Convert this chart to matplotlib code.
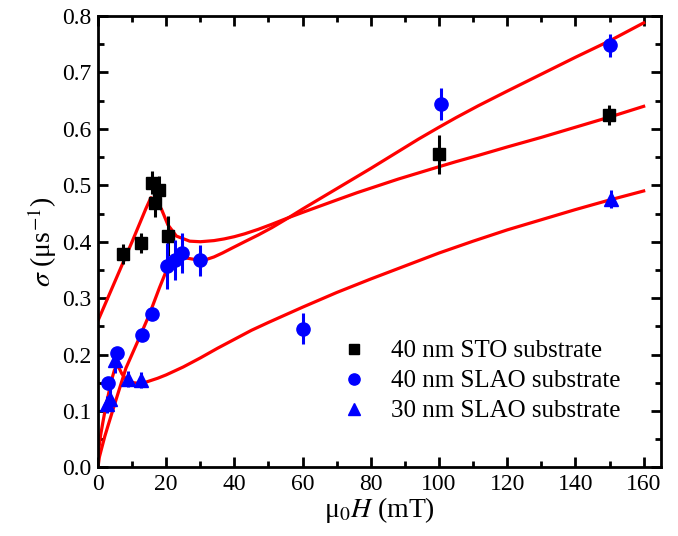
import matplotlib
matplotlib.use("Agg")
import matplotlib.pyplot as plt
from matplotlib.ticker import MultipleLocator, FormatStrFormatter

plt.rcParams['font.family'] = ['Liberation Serif', 'DejaVu Serif']
plt.rcParams['mathtext.fontset'] = 'stix'

# ---- data points ----
sto_x = [7.3, 12.5, 15.8, 16.6, 17.8, 20.4, 100.1, 149.8]
sto_y = [0.378, 0.398, 0.505, 0.468, 0.492, 0.410, 0.555, 0.625]
sto_e = [0.018, 0.018, 0.020, 0.025, 0.025, 0.035, 0.035, 0.018]

slao40_x = [3.0, 5.5, 12.8, 15.7, 20.3, 22.5, 24.5, 30.0, 60.1, 100.7, 150.2]
slao40_y = [0.150, 0.202, 0.234, 0.272, 0.357, 0.368, 0.380, 0.367, 0.246, 0.644, 0.748]
slao40_e = [0.008, 0.008, 0.008, 0.008, 0.040, 0.035, 0.035, 0.028, 0.028, 0.028, 0.020]

slao30_x = [2.6, 3.4, 5.0, 8.9, 12.7, 150.5]
slao30_y = [0.112, 0.122, 0.190, 0.157, 0.155, 0.476]
slao30_e = [0.015, 0.022, 0.022, 0.014, 0.014, 0.016]

# ---- fit curves ----
fit_sto_x = [0, 5, 10, 14, 15.5, 16.5, 17.5, 18.6, 20.5, 23, 26.9, 30, 34, 37, 40, 43, 47,
             51, 56, 60, 65, 70, 76, 82, 88, 94, 100, 105, 111.5, 120, 130, 140, 150, 160]
fit_sto_y = [0.26, 0.33, 0.40, 0.458, 0.478, 0.475, 0.467, 0.458, 0.430, 0.410, 0.401, 0.400,
             0.402, 0.405, 0.409, 0.414, 0.422, 0.431, 0.443, 0.452, 0.463, 0.474, 0.487,
             0.499, 0.511, 0.522, 0.533, 0.542, 0.553, 0.568, 0.585, 0.603, 0.621, 0.640]

fit_s40_x = [0, 0.4, 1, 2, 3, 5.3, 8.2, 12, 15, 18, 20, 21.5, 23, 24.5, 26, 28, 30, 32, 34,
             36.5, 39.4, 43, 47, 51, 56, 60, 65, 70, 75, 80, 87, 94, 100, 105, 111.5, 120,
             130, 140, 150, 160]
fit_s40_y = [0.0, 0.018, 0.032, 0.055, 0.075, 0.120, 0.176, 0.228, 0.270, 0.318, 0.348,
             0.360, 0.367, 0.371, 0.371, 0.369, 0.368, 0.369, 0.373, 0.380, 0.389, 0.400,
             0.412, 0.425, 0.443, 0.458, 0.476, 0.494, 0.512, 0.530, 0.556, 0.582, 0.603,
             0.620, 0.641, 0.667, 0.697, 0.727, 0.756, 0.788]

fit_s30_x = [0, 0.3, 0.8, 1.5, 2.3, 3.2, 4.0, 4.8, 5.5, 6.2, 7.0, 8.0, 9.2, 10.5, 12, 13.5,
             15, 17.5, 20, 22.5, 25, 27.5, 30, 35, 40, 45, 50, 55, 60, 65, 70, 75, 80, 90,
             100, 110, 120, 130, 140, 150, 160]
fit_s30_y = [0.0, 0.035, 0.058, 0.082, 0.108, 0.133, 0.155, 0.172, 0.180, 0.176, 0.166,
             0.158, 0.153, 0.150, 0.149, 0.150, 0.153, 0.158, 0.164, 0.171, 0.178, 0.186,
             0.194, 0.211, 0.227, 0.243, 0.257, 0.2705, 0.284, 0.297, 0.310, 0.322, 0.334,
             0.357, 0.380, 0.401, 0.421, 0.439, 0.457, 0.474, 0.490]

labels = ['40 nm STO substrate', '40 nm SLAO substrate', '30 nm SLAO substrate']

fig = plt.figure(figsize=(6.78, 5.36), dpi=100)
ax = fig.add_axes([0.1445, 0.128, 0.830, 0.842])

lw_fit = 2.3
for fx, fy in [(fit_sto_x, fit_sto_y), (fit_s40_x, fit_s40_y), (fit_s30_x, fit_s30_y)]:
    ax.plot(fx, fy, color='red', lw=lw_fit, zorder=2, solid_joinstyle='round')

h1 = ax.errorbar(sto_x, sto_y, yerr=sto_e, fmt='s', color='black', ms=8.5,
                 elinewidth=2.2, capsize=0, zorder=3)
h2 = ax.errorbar(slao40_x, slao40_y, yerr=slao40_e, fmt='o', color='blue', ms=9.5,
                 elinewidth=2.2, capsize=0, zorder=4)
h3 = ax.errorbar(slao30_x, slao30_y, yerr=slao30_e, fmt='^', color='blue', ms=10,
                 elinewidth=2.2, capsize=0, zorder=4)

ax.set_xlim(0, 165)
ax.set_ylim(0, 0.8)
ax.xaxis.set_major_locator(MultipleLocator(20))
ax.xaxis.set_minor_locator(MultipleLocator(10))
ax.yaxis.set_major_locator(MultipleLocator(0.1))
ax.yaxis.set_minor_locator(MultipleLocator(0.05))
ax.yaxis.set_major_formatter(FormatStrFormatter('%.1f'))
ax.tick_params(which='both', direction='in', top=True, right=True, width=2, labelsize=17, pad=5)
ax.tick_params(which='major', length=7)
ax.tick_params(which='minor', length=4)
for s in ax.spines.values():
    s.set_linewidth(2)

ax.set_xlabel(r'μ$_0$$H$ (mT)', fontsize=20, labelpad=0)
ax.set_ylabel(r'$\sigma$ (μs$^{-1}$)', fontsize=20, labelpad=2)

leg = ax.legend([h1[0], h2[0], h3[0]], labels, loc='lower left',
                bbox_to_anchor=(0.392, 0.05), frameon=False, fontsize=18,
                handlelength=1.0, handletextpad=1.0, labelspacing=0.3, markerscale=0.85)

fig.savefig('out.png', dpi=100)
